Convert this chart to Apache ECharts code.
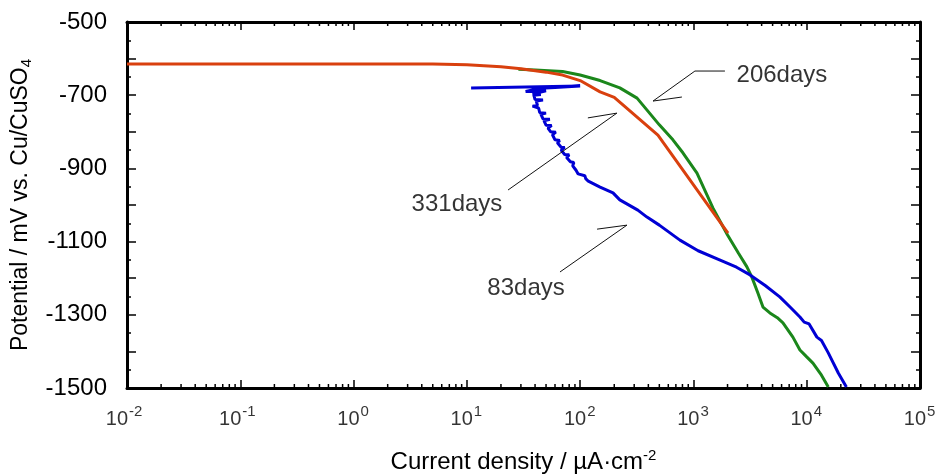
<!DOCTYPE html>
<html>
<head>
<meta charset="utf-8">
<script src="https://cdn.jsdelivr.net/npm/echarts@6/dist/echarts.min.js"></script>
<style>
html,body{margin:0;padding:0;background:#fff;}
#chart{width:941px;height:475px;}
</style>
</head>
<body>
<div id="chart"></div>
<script>
// ---- data ----
var redX = [0.01, 1, 5, 10, 20, 30, 50, 70, 100, 150, 200, 486, 2018];
var redY = [-615, -615, -615, -617, -622, -628, -637, -645, -660, -691, -706, -809, -1077];

var greenX = [28.5, 40, 70, 100, 150, 224, 318, 388, 500, 659, 810, 1075, 1485, 2000, 2500, 2966, 3280, 3700, 4110, 4730, 5500, 6170, 7550, 8710, 10000, 11350, 13500, 15500];
var greenY = [-629, -631, -635, -645, -660, -680, -708, -740, -781, -822, -858, -913, -1008, -1082, -1132, -1169, -1197, -1240, -1279, -1295, -1308, -1322, -1361, -1396, -1415, -1432, -1465, -1497];

var blueX = [10.9, 100, 60, 45, 33, 50, 38, 45, 39, 40, 47, 41, 42, 38, 43, 44, 50, 45, 47, 54, 48, 50, 56, 52, 55, 61, 57, 60, 66, 63, 68, 73, 68, 73, 80, 76, 82, 88, 86, 92, 96, 110, 112, 118, 150, 195, 224, 323, 389, 500, 760, 1100, 1700, 2400, 3160, 4300, 5780, 7200, 8710, 9500, 10500, 12300, 13500, 15500, 19000, 22400];
var blueY = [-680, -675, -679, -681, -690, -688, -697, -698, -700, -712, -713, -716, -728, -730, -735, -748, -749, -752, -765, -766, -770, -782, -783, -790, -800, -801, -808, -822, -824, -830, -842, -843, -850, -862, -863, -870, -882, -884, -893, -905, -915, -920, -928, -935, -951, -967, -986, -1014, -1033, -1055, -1096, -1125, -1150, -1170, -1191, -1220, -1251, -1280, -1306, -1320, -1325, -1361, -1370, -1404, -1459, -1497];

var annLabels = ['206days', '331days', '83days'];
var annLabelX = [6040, 8.18, 33.3];
var annLabelY = [-647, -997, -1229];
var ann206 = [[1897, -634], [1031, -634], [440, -716], [791, -705]];
var ann331 = [[23.1, -959], [211, -749], [117, -762]];
var ann83 = [[66.4, -1183], [259, -1055], [141, -1066]];

var xTickValues = [0.01, 0.1, 1, 10, 100, 1000, 10000, 100000];
var xTickBase = '10';
var xTickExponents = ['-2', '-1', '0', '1', '2', '3', '4', '5'];

var xMin = 0.01, xMax = 100000;
var yMin = -1500, yMax = -500;
var minorMult = [2, 3, 4, 5, 6, 7, 8, 9];
var minorDecades = [0.01, 0.1, 1, 10, 100, 1000, 10000];

// ---- build ----
function zip(a, b) { return a.map(function (v, i) { return [v, b[i]]; }); }
var minorTicks = [];
minorDecades.forEach(function (d) { minorMult.forEach(function (m) { minorTicks.push([d * m, yMin]); }); });

var FONT = 'Liberation Sans';
var BIG = 24;
var chart = echarts.init(document.getElementById('chart'));

var axisLineStyle = { color: '#000', width: 3 };

function lineSeries(data, color, width) {
  return {
    type: 'line', data: data, showSymbol: false, symbol: 'none',
    lineStyle: { color: color, width: width }, animation: false, silent: true, z: 3
  };
}

// split-label placement for "10" + superscript exponent
function splitShift(exp) { return exp.length > 1 ? 1 : 6; }

var option = {
  backgroundColor: '#fff',
  animation: false,
  grid: { left: 127, right: 21, top: 22, bottom: 87, containLabel: false, outerBoundsMode: 'none' },
  xAxis: [{
    type: 'log', logBase: 10, min: xMin, max: xMax, splitNumber: 7,
    position: 'bottom',
    axisLine: { show: true, lineStyle: axisLineStyle },
    axisTick: { show: true, inside: true, length: 8, lineStyle: { color: '#000', width: 1.5 } },
    splitLine: { show: false },
    axisLabel: { show: false },
    name: '{a|Current density / µA·cm}{b|-2}',
    nameLocation: 'middle', nameGap: 60,
    nameTextStyle: {
      fontSize: BIG, fontFamily: FONT, color: '#000',
      rich: {
        a: { fontSize: BIG, fontFamily: FONT, color: '#000' },
        b: { fontSize: 15, fontFamily: FONT, color: '#000', padding: [0, 0, 13, 0] }
      }
    }
  }, {
    type: 'log', logBase: 10, min: xMin, max: xMax, splitNumber: 7,
    position: 'top',
    axisLine: { show: true, lineStyle: axisLineStyle },
    axisTick: { show: true, inside: true, length: 8, lineStyle: { color: '#000', width: 1.5 } },
    splitLine: { show: false },
    axisLabel: { show: false }
  }],
  yAxis: [{
    type: 'value', min: yMin, max: yMax, interval: 100,
    position: 'left',
    axisLine: { show: true, lineStyle: axisLineStyle },
    axisTick: { show: true, inside: true, length: 9, lineStyle: { color: '#000', width: 1.5 } },
    minorTick: { show: true, splitNumber: 2, length: 4, lineStyle: { color: '#000', width: 1.5 } },
    splitLine: { show: false },
    axisLabel: {
      margin: 20, fontSize: BIG, fontFamily: FONT, color: '#000',
      formatter: function (v) { return ((v - yMax) % 200 === 0) ? String(v) : ''; }
    },
    name: '{a|Potential / mV vs. Cu/CuSO}{b|4}',
    nameLocation: 'middle', nameGap: 91, nameRotate: 90,
    nameTextStyle: {
      fontSize: 23, fontFamily: FONT, color: '#000',
      rich: {
        a: { fontSize: 23, fontFamily: FONT, color: '#000' },
        b: { fontSize: 15, fontFamily: FONT, color: '#000', padding: [13, 0, 0, 0] }
      }
    }
  }, {
    type: 'value', min: yMin, max: yMax, interval: 100,
    position: 'right',
    axisLine: { show: true, lineStyle: axisLineStyle },
    axisTick: { show: true, inside: true, length: 9, lineStyle: { color: '#000', width: 1.5 } },
    minorTick: { show: true, splitNumber: 2, length: 4, lineStyle: { color: '#000', width: 1.5 } },
    splitLine: { show: false },
    axisLabel: { show: false }
  }],
  series: [
    {
      type: 'custom', data: minorTicks, clip: false, silent: true, z: 1,
      encode: { x: 0, y: 1 },
      renderItem: function (params, api) {
        var v = api.value(0);
        var pb = api.coord([v, yMin]);
        var pt = api.coord([v, yMax]);
        var st = { stroke: '#000', lineWidth: 1.5 };
        return {
          type: 'group', children: [
            { type: 'line', shape: { x1: pb[0], y1: pb[1], x2: pb[0], y2: pb[1] - 4 }, style: st },
            { type: 'line', shape: { x1: pt[0], y1: pt[1], x2: pt[0], y2: pt[1] + 4 }, style: st }
          ]
        };
      }
    },
    lineSeries(zip(greenX, greenY), '#1B871B', 3),
    lineSeries(zip(blueX, blueY), '#0000D4', 3),
    lineSeries(zip(redX, redY), '#D9400E', 3),
    lineSeries(ann206, '#111', 1),
    lineSeries(ann331, '#111', 1),
    lineSeries(ann83, '#111', 1),
    {
      type: 'scatter', silent: true, symbolSize: 0, z: 4,
      data: annLabels.map(function (t, i) { return { value: [annLabelX[i], annLabelY[i]], name: t }; }),
      label: {
        show: true, position: 'inside', formatter: '{b}',
        fontSize: BIG, fontFamily: FONT, color: '#000', textBorderWidth: 0
      }
    },
    {
      type: 'scatter', silent: true, symbolSize: 0, z: 4, clip: false,
      data: xTickValues.map(function (v, i) {
        return { value: [v, yMin], name: xTickBase,
          label: { offset: [splitShift(xTickExponents[i]), 31] } };
      }),
      label: {
        show: true, position: 'inside', align: 'right', verticalAlign: 'middle',
        formatter: '{b}', color: '#000', fontFamily: FONT, fontSize: 20, textBorderWidth: 0
      }
    },
    {
      type: 'scatter', silent: true, symbolSize: 0, z: 4, clip: false,
      data: xTickValues.map(function (v, i) {
        return { value: [v, yMin], name: xTickExponents[i],
          label: { offset: [splitShift(xTickExponents[i]) + 1, 24] } };
      }),
      label: {
        show: true, position: 'inside', align: 'left', verticalAlign: 'middle',
        formatter: '{b}', color: '#000', fontFamily: FONT, fontSize: 15, textBorderWidth: 0
      }
    }
  ]
};
chart.setOption(option);
</script>
</body>
</html>
